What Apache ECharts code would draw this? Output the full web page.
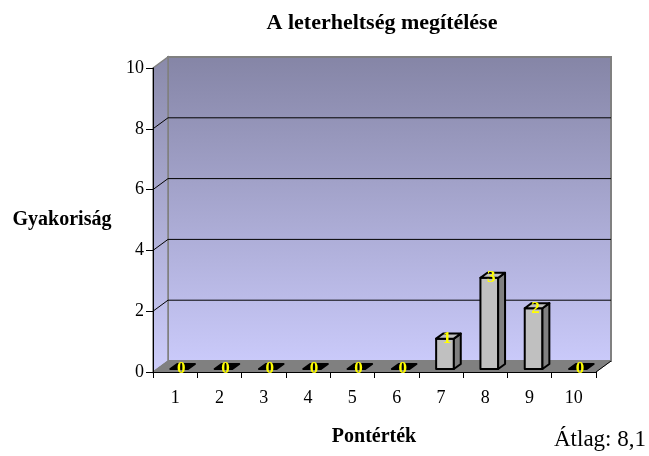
<!DOCTYPE html>
<html>
<head>
<meta charset="utf-8">
<script src="https://cdn.jsdelivr.net/npm/echarts@6/dist/echarts.min.js"></script>
<style>html,body{margin:0;padding:0;background:#fff;}#c{width:649px;height:456px;}</style>
</head>
<body>
<div id="c"></div>
<script>
const categories = ['1','2','3','4','5','6','7','8','9','10'];
const frequencies = [0,0,0,0,0,0,1,3,2,0];
const yMin = 0, yMax = 10, yInterval = 2;
const titleText = 'A leterheltség megítélése';
const yName = 'Gyakoriság';
const xName = 'Pontérték';
const noteText = 'Átlag: 8,1';

const FONT = '"Liberation Serif", "DejaVu Serif", serif';
const DX = 15, DY = -11;          // depth offset of the 3D box
const F1 = 0.27, F2 = 0.73;       // bar depth span (fraction)
const BAR_W = 0.4;                // bar width as share of band

const chart = echarts.init(document.getElementById('c'), null, {renderer: 'canvas'});

function wallsRender(params, api) {
  const cs = params.coordSys;
  const x0 = cs.x, y0 = cs.y, w = cs.width, h = cs.height;
  const wallGrad = new echarts.graphic.LinearGradient(0, 0, 0, 1, [
    {offset: 0, color: '#8585a6'}, {offset: 1, color: '#cacafa'}
  ]);
  const sideGrad = new echarts.graphic.LinearGradient(0, 0, 0, 1, [
    {offset: 0, color: '#8a8aaa'}, {offset: 1, color: '#cdcdfb'}
  ]);
  const children = [];
  children.push({type: 'rect', shape: {x: x0 + DX, y: y0 + DY, width: w, height: h},
    style: {fill: wallGrad, stroke: '#808080', lineWidth: 2}});
  children.push({type: 'polygon', shape: {points: [[x0, y0], [x0 + DX, y0 + DY], [x0 + DX, y0 + h + DY], [x0, y0 + h]]},
    style: {fill: sideGrad, stroke: '#808080', lineWidth: 1.5}});
  children.push({type: 'polygon', shape: {points: [[x0, y0 + h], [x0 + DX, y0 + h + DY], [x0 + w + DX, y0 + h + DY], [x0 + w, y0 + h]]},
    style: {fill: '#808080', stroke: '#808080', lineWidth: 1}});
  for (let v = yMin + yInterval; v < yMax; v += yInterval) {
    const y = api.coord([0, v])[1];
    children.push({type: 'line', shape: {x1: x0 + DX, y1: y + DY, x2: x0 + w + DX, y2: y + DY},
      style: {stroke: '#000', lineWidth: 1}});
    children.push({type: 'line', shape: {x1: x0, y1: y, x2: x0 + DX, y2: y + DY},
      style: {stroke: '#000', lineWidth: 1}});
  }
  children.push({type: 'line', shape: {x1: x0 + w, y1: y0 + h, x2: x0 + w + DX, y2: y0 + h + DY},
    style: {stroke: '#000', lineWidth: 1}});
  return {type: 'group', children: children};
}

function barRender(params, api) {
  const cat = api.value(0), v = api.value(1);
  const base = api.coord([cat, 0]);
  const top = api.coord([cat, v]);
  const band = api.size([1, 0])[0];
  const bw = band * BAR_W;
  const fx = DX * F1, fy = DY * F1;
  const ddx = DX * (F2 - F1), ddy = DY * (F2 - F1);
  const xl = base[0] - bw / 2 + fx, xr = base[0] + bw / 2 + fx;
  const yt = top[1] + fy, yb = base[1] + fy;
  const st = {stroke: '#000', lineWidth: 2, lineJoin: 'round'};
  const children = [];
  if (v > 0) {
    children.push({type: 'rect', shape: {x: xl, y: yt, width: xr - xl, height: yb - yt},
      style: Object.assign({fill: '#c0c0c0'}, st)});
    children.push({type: 'polygon', shape: {points: [[xr, yt], [xr + ddx, yt + ddy], [xr + ddx, yb + ddy], [xr, yb]]},
      style: Object.assign({fill: '#808080'}, st)});
  }
  children.push({type: 'polygon', shape: {points: [[xl, yt], [xl + ddx, yt + ddy], [xr + ddx, yt + ddy], [xr, yt]]},
    style: Object.assign({fill: v > 0 ? '#c0c0c0' : '#000'}, st)});
  children.push({type: 'text', style: {
    text: String(v), x: (xl + xr) / 2 + 2, y: yt,
    fill: '#ffff00', font: 'bold 17px ' + FONT, textAlign: 'center', textVerticalAlign: 'middle'
  }});
  return {type: 'group', children: children};
}

const option = {
  animation: false,
  backgroundColor: '#ffffff',
  grid: {left: 153, right: 53, top: 68, bottom: 84, containLabel: false},
  xAxis: {
    type: 'category', data: categories, z: 3,
    axisLine: {lineStyle: {color: '#000', width: 1}},
    axisTick: {show: true, alignWithLabel: false, interval: 0, length: 6, lineStyle: {color: '#000'}},
    axisLabel: {color: '#000', fontSize: 18, fontFamily: FONT, margin: 17, interval: 0},
    splitLine: {show: false}
  },
  yAxis: {
    type: 'value', min: yMin, max: yMax, interval: yInterval, z: 3,
    axisLine: {show: true, lineStyle: {color: '#000', width: 1}},
    axisTick: {show: true, length: 7, lineStyle: {color: '#000'}},
    axisLabel: {color: '#000', fontSize: 18, fontFamily: FONT, margin: 9},
    splitLine: {show: false}
  },
  graphic: [
    {type: 'text', style: {text: titleText, x: 382, y: 23, fill: '#000',
      font: 'bold 22px ' + FONT, textAlign: 'center', textVerticalAlign: 'middle'}},
    {type: 'text', style: {text: yName, x: 62, y: 220, fill: '#000',
      font: 'bold 20px ' + FONT, textAlign: 'center', textVerticalAlign: 'middle'}},
    {type: 'text', style: {text: xName, x: 374, y: 437, fill: '#000',
      font: 'bold 20px ' + FONT, textAlign: 'center', textVerticalAlign: 'middle'}},
    {type: 'text', style: {text: noteText, x: 600, y: 440, fill: '#000',
      font: '23px ' + FONT, textAlign: 'center', textVerticalAlign: 'middle'}}
  ],
  series: [
    {type: 'custom', name: 'walls', z: 1, silent: true, renderItem: wallsRender, data: [[0, 0]], clip: false},
    {type: 'custom', name: 'Gyakoriság', z: 5, renderItem: barRender, clip: false,
      data: frequencies.map((v, i) => [i, v])}
  ]
};
chart.setOption(option);
</script>
</body>
</html>
